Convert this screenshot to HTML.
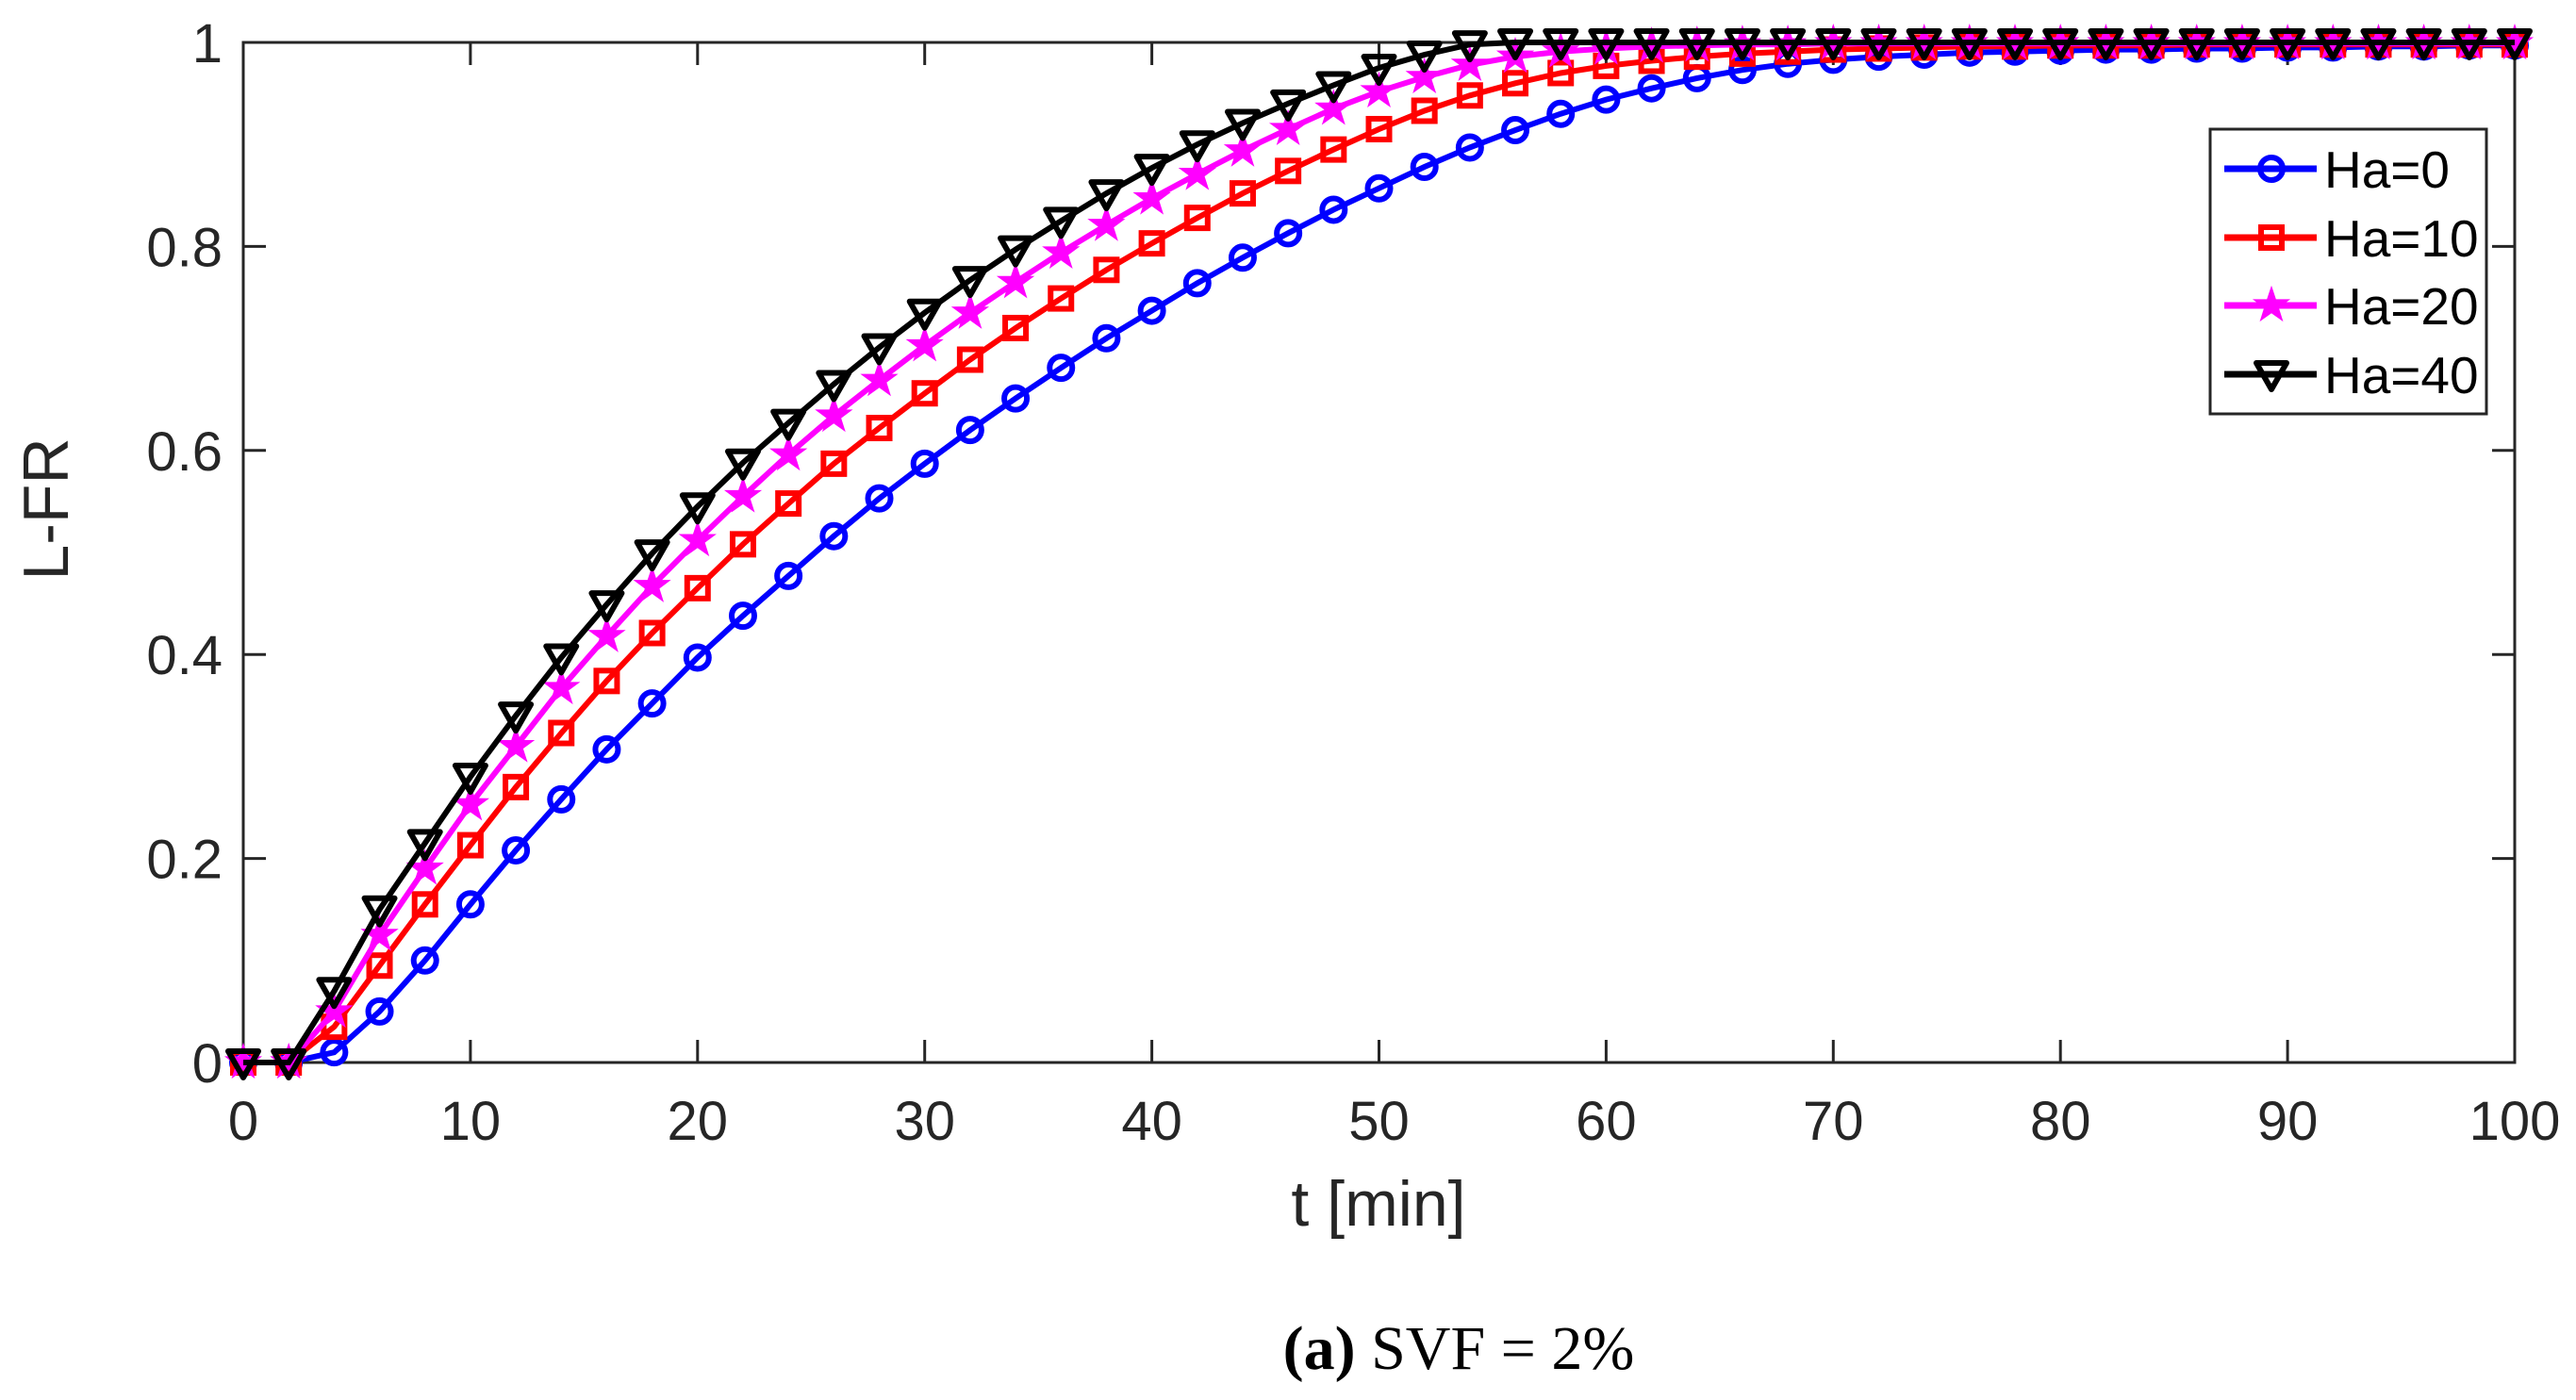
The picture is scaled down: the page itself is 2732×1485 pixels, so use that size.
<!DOCTYPE html>
<html><head><meta charset="utf-8"><style>
html,body{margin:0;padding:0;background:#fff;}
svg{display:block;}
text{font-family:"Liberation Sans",sans-serif;fill:#262626;}
</style></head><body>
<svg id="chart" width="2732" height="1485" viewBox="0 0 2732 1485" xmlns="http://www.w3.org/2000/svg">
<rect width="2732" height="1485" fill="#fff"/>
<g id="plot"></g>
<text x="0" y="0" font-size="68" text-anchor="middle" transform="translate(72,540) rotate(-90)">L-FR</text>
<text x="1462" y="1300" font-size="68" text-anchor="middle">t [min]</text>
<text x="1547" y="1452" font-size="66" text-anchor="middle" style="font-family:'Liberation Serif',serif;fill:#000"><tspan font-weight="bold">(a)</tspan> SVF = 2%</text>
</svg>
<script>
const tValues=[0,2,4,6,8,10,12,14,16,18,20,22,24,26,28,30,32,34,36,38,40,42,44,46,48,50,52,54,56,58,60,62,64,66,68,70,72,74,76,78,80,82,84,86,88,90,92,94,96,98,100];
const ha0=[0,0,0.01,0.05,0.10,0.155,0.208,0.258,0.307,0.352,0.397,0.438,0.477,0.516,0.553,0.587,0.620,0.651,0.681,0.710,0.737,0.764,0.789,0.813,0.836,0.857,0.878,0.897,0.914,0.930,0.944,0.955,0.965,0.973,0.979,0.983,0.986,0.988,0.990,0.991,0.992,0.993,0.993,0.994,0.994,0.995,0.995,0.996,0.996,0.997,0.997];
const ha10=[0,0,0.035,0.095,0.155,0.213,0.270,0.323,0.374,0.421,0.465,0.508,0.548,0.587,0.622,0.656,0.689,0.720,0.749,0.777,0.803,0.828,0.852,0.874,0.895,0.915,0.933,0.948,0.960,0.970,0.977,0.982,0.986,0.989,0.991,0.993,0.994,0.995,0.996,0.996,0.997,0.997,0.997,0.998,0.998,0.998,0.998,0.998,0.998,0.998,0.998];
const ha20=[0,0,0.05,0.125,0.19,0.253,0.31,0.367,0.418,0.467,0.512,0.555,0.596,0.634,0.669,0.703,0.735,0.765,0.794,0.821,0.847,0.871,0.894,0.915,0.935,0.952,0.966,0.978,0.986,0.991,0.994,0.996,0.997,0.998,0.998,0.999,0.999,0.999,0.999,0.999,0.999,0.999,0.999,0.999,0.999,0.999,0.999,0.999,0.999,0.999,0.999];
const ha40=[0,0,0.07,0.15,0.215,0.28,0.34,0.397,0.449,0.499,0.545,0.588,0.627,0.665,0.701,0.735,0.767,0.797,0.825,0.852,0.877,0.900,0.921,0.940,0.958,0.975,0.988,0.998,1,1,1,1,1,1,1,1,1,1,1,1,1,1,1,1,1,1,1,1,1,1,1];
const xTicks=[0,10,20,30,40,50,60,70,80,90,100];
const yTicks=[0,0.2,0.4,0.6,0.8,1];
const yTickLabels=["0","0.2","0.4","0.6","0.8","1"];
const seriesNames=["Ha=0","Ha=10","Ha=20","Ha=40"];

const L=258,R=2667,T=45,B=1127;
const xs=v=>L+(v-0)/100*(R-L);
const ys=v=>B-(v-0)/1*(B-T);
const NS="http://www.w3.org/2000/svg";
const g=document.getElementById('plot');
function mk(tag,attrs,parent){const e=document.createElementNS(NS,tag);for(const k in attrs)e.setAttribute(k,attrs[k]);(parent||g).appendChild(e);return e;}

const box=mk('rect',{x:L,y:T,width:R-L,height:B-T,fill:'none',stroke:'#262626','stroke-width':3});


xTicks.forEach(v=>{
  const x=xs(v);
  const t1=mk('line',{x1:x,x2:x,y1:B,y2:B-24,stroke:'#262626','stroke-width':3});
  
  
  const t2=mk('line',{x1:x,x2:x,y1:T,y2:T+24,stroke:'#262626','stroke-width':3});
  
  
  const lb=mk('text',{x:x,y:B+82,'font-size':58,'text-anchor':'middle'});
  lb.textContent=String(v);
  
  
});
yTicks.forEach((v,i)=>{
  const y=ys(v);
  const t1=mk('line',{x1:L,x2:L+24,y1:y,y2:y,stroke:'#262626','stroke-width':3});
  
  
  const t2=mk('line',{x1:R,x2:R-24,y1:y,y2:y,stroke:'#262626','stroke-width':3});
  
  
  const lb=mk('text',{x:L-22,y:y+21,'font-size':58,'text-anchor':'end'});
  lb.textContent=yTickLabels[i];
  
  
});

function marker(type,x,y,color,parent){
  let e;
  if(type==='o') e=mk('circle',{cx:x,cy:y,r:12,fill:'none',stroke:color,'stroke-width':6},parent);
  else if(type==='s') e=mk('rect',{x:x-11,y:y-11,width:22,height:22,fill:'none',stroke:color,'stroke-width':6},parent);
  else if(type==='*'){
    let p=[];for(let k=0;k<10;k++){const a=-Math.PI/2+k*Math.PI/5;const r=k%2?7:18;p.push((x+r*Math.cos(a)).toFixed(1)+','+(y+r*Math.sin(a)).toFixed(1));}
    e=mk('polygon',{points:p.join(' '),fill:color,stroke:color,'stroke-width':2},parent);
  } else e=mk('polygon',{points:`${x-16},${y-12} ${x+16},${y-12} ${x},${y+16}`,fill:'none',stroke:color,'stroke-width':6,'stroke-linejoin':'round'},parent);
  return e;
}
const seriesData=[ha0,ha10,ha20,ha40];
const colors=['#0000ff','#ff0000','#ff00ff','#000000'];
const mtypes=['o','s','*','v'];
seriesData.forEach((d,si)=>{
  const sg=mk('g',{});
  
  
  const pts=d.map((v,i)=>xs(tValues[i]).toFixed(1)+','+ys(v).toFixed(1)).join(' ');
  const pl=mk('polyline',{points:pts,fill:'none',stroke:colors[si],'stroke-width':6},sg);
  
  
  d.forEach((v,i)=>{
    const m=marker(mtypes[si],xs(tValues[i]),ys(v),colors[si],sg);
    
    
  });
});

const lg=mk('g',{});


const lbx=mk('rect',{x:2344,y:137,width:293,height:302,fill:'#fff',stroke:'#262626','stroke-width':3},lg);


const legY=[179,252,324,397];
seriesNames.forEach((n,i)=>{
  const y=legY[i];
  const ln=mk('line',{x1:2359,x2:2457,y1:y,y2:y,stroke:colors[i],'stroke-width':7},lg);
  
  
  const m=marker(mtypes[i],2409,y,colors[i],lg);
  
  
  const t=mk('text',{x:2465,y:y+20,'font-size':55,style:'fill:#000'},lg);
  t.textContent=n;
  
  
});
</script>
</body></html>
